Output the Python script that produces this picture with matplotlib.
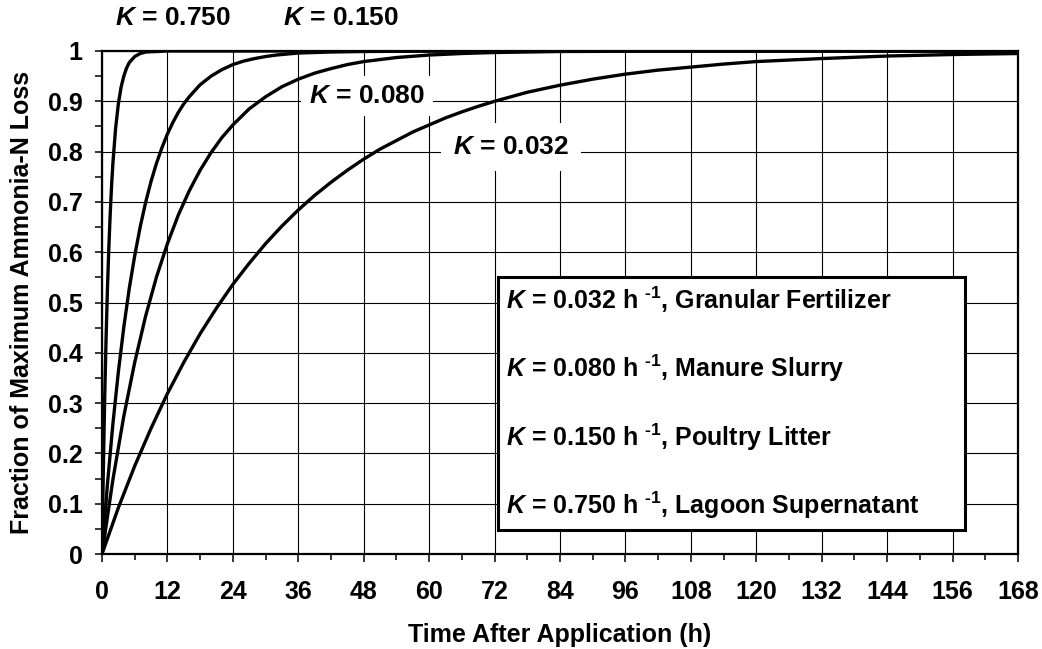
import matplotlib
matplotlib.use("Agg")
import matplotlib.pyplot as plt
from matplotlib.patches import Rectangle
from matplotlib.ticker import MultipleLocator

plt.rcParams["font.family"] = ["Liberation Sans", "DejaVu Sans"]
plt.rcParams["font.weight"] = "bold"
plt.rcParams["axes.labelweight"] = "bold"
plt.rcParams["mathtext.fontset"] = "custom"
plt.rcParams["mathtext.rm"] = "Liberation Sans:bold"
plt.rcParams["mathtext.it"] = "Liberation Sans:italic:bold"
plt.rcParams["mathtext.bf"] = "Liberation Sans:bold"

# --- values (hours, fraction of max loss) ---
t_032 = [0, 3, 6, 9, 12, 15, 18, 21, 24, 27, 30, 33, 36, 39, 42, 45, 48,
         51, 54, 57, 60, 63, 66, 69, 72, 78, 84, 90, 96, 102, 108, 114, 120,
         132, 144, 156, 168]
f_032 = [0, 0.092, 0.175, 0.250, 0.319, 0.381, 0.438, 0.489, 0.536, 0.578,
         0.617, 0.652, 0.684, 0.713, 0.739, 0.763, 0.785, 0.805, 0.822,
         0.839, 0.853, 0.867, 0.879, 0.890, 0.900, 0.918, 0.932, 0.944,
         0.954, 0.962, 0.968, 0.974, 0.979, 0.985, 0.990, 0.993, 0.995]

t_080 = [0, 2, 4, 6, 8, 10, 12, 14, 16, 18, 20, 22, 24, 27, 30, 33, 36, 39,
         42, 45, 48, 54, 60, 66, 72, 84, 96, 120, 168]
f_080 = [0, 0.148, 0.274, 0.381, 0.473, 0.551, 0.617, 0.674, 0.722, 0.763,
         0.798, 0.828, 0.853, 0.885, 0.909, 0.929, 0.944, 0.956, 0.965,
         0.973, 0.979, 0.987, 0.992, 0.995, 0.997, 0.999, 0.9995, 0.9999, 1.0]

t_150 = [0, 1, 2, 3, 4, 5, 6, 7, 8, 9, 10, 11, 12, 13, 14, 15, 16, 18, 20,
         22, 24, 26, 28, 30, 32, 36, 42, 48, 60, 72, 168]
f_150 = [0, 0.139, 0.259, 0.362, 0.451, 0.528, 0.593, 0.650, 0.699, 0.741,
         0.777, 0.808, 0.835, 0.858, 0.878, 0.895, 0.909, 0.933, 0.950,
         0.963, 0.973, 0.980, 0.985, 0.989, 0.992, 0.996, 0.998, 0.999,
         0.9999, 1.0, 1.0]

t_750 = [0, 0.25, 0.5, 0.75, 1, 1.25, 1.5, 1.75, 2, 2.5, 3, 3.5, 4, 4.5, 5,
         6, 7, 8, 10, 12, 168]
f_750 = [0, 0.171, 0.313, 0.430, 0.528, 0.608, 0.675, 0.731, 0.777, 0.847,
         0.895, 0.928, 0.950, 0.966, 0.977, 0.989, 0.995, 0.998, 0.999,
         1.0, 1.0]

k_values = ["0.032", "0.080", "0.150", "0.750"]
materials = ["Granular Fertilizer", "Manure Slurry", "Poultry Litter",
             "Lagoon Supernatant"]
x_ticks = list(range(0, 169, 12))
y_ticks = [0, 0.1, 0.2, 0.3, 0.4, 0.5, 0.6, 0.7, 0.8, 0.9, 1]
y_ticklabels = ["0", "0.1", "0.2", "0.3", "0.4", "0.5", "0.6", "0.7",
                "0.8", "0.9", "1"]

fig = plt.figure(figsize=(10.42, 6.49), dpi=100)
ax = fig.add_axes([102 / 1042, 95 / 649, 916 / 1042, 503 / 649])

for t, f in [(t_032, f_032), (t_080, f_080), (t_150, f_150), (t_750, f_750)]:
    ax.plot(t, f, color="black", lw=2.4, solid_joinstyle="round", zorder=3)

ax.set_xlim(0, 168)
ax.set_ylim(0, 1)
ax.set_xticks(x_ticks)
ax.set_yticks(y_ticks)
ax.set_yticklabels(y_ticklabels)
ax.xaxis.set_minor_locator(MultipleLocator(6))
ax.yaxis.set_minor_locator(MultipleLocator(0.05))
ax.grid(True, which="major", color="black", lw=0.8)
ax.set_axisbelow(True)
for s in ax.spines.values():
    s.set_linewidth(1.6)
ax.tick_params(axis="x", which="major", direction="out", length=6, width=1.1,
               pad=13, labelsize=18)
ax.tick_params(axis="x", which="minor", direction="out", length=4, width=1.1)
ax.tick_params(axis="y", which="major", direction="out", length=5, width=1.1,
               pad=9, labelsize=18)
ax.tick_params(axis="y", which="minor", direction="out", length=5, width=1.1)

ax.set_xlabel("Time After Application (h)", fontsize=18, fontweight="bold",
              va="center")
ax.set_ylabel("Fraction of Maximum Ammonia-N Loss", fontsize=18,
              fontweight="bold", va="center")
ax.xaxis.set_label_coords(0.5, -0.161)
ax.yaxis.set_label_coords(-0.087, 0.5)

# curve labels
ax.text(13.1, 1.066, r"$K$ = 0.750", fontsize=19, ha="center", va="center")
ax.text(43.8, 1.066, r"$K$ = 0.150", fontsize=19, ha="center", va="center")
ax.text(48.6, 0.910, r"$K$ = 0.080", fontsize=19, ha="center", va="center",
        bbox=dict(boxstyle="square,pad=0.3", fc="white", ec="none"), zorder=2)
ax.text(75.0, 0.809, r"$K$ = 0.032", fontsize=19, ha="center", va="center",
        bbox=dict(boxstyle="square,pad=0.45", fc="white", ec="none"), zorder=2)

# legend-style text box
ax.add_patch(Rectangle((72.6, 0.048), 158.3 - 72.6, 0.551 - 0.048,
                       fc="white", ec="black", lw=2.2, zorder=4))
for yy, k, m in zip([0.505, 0.370, 0.233, 0.097], k_values, materials):
    ax.text(74.1, yy, r"$K$ = " + k + r" h $^{\text{-1}}$, " + m, fontsize=18,
            ha="left", va="center", zorder=5)

fig.savefig("out.png", dpi=100)
